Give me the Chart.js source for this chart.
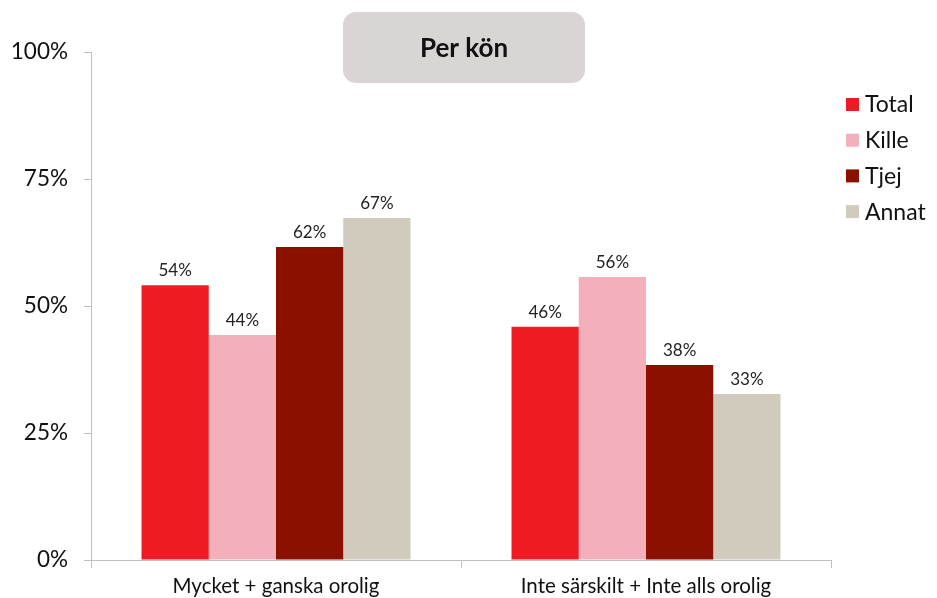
<!DOCTYPE html>
<html>
<head>
<meta charset="utf-8">
<script src="https://cdn.jsdelivr.net/npm/chart.js@4/dist/chart.umd.min.js"></script>
<style>
  html, body { margin: 0; padding: 0; background: #fff; }
  #wrap { width: 937px; height: 598px; position: relative; }
</style>
</head>
<body>
<div id="wrap"><canvas id="chart"></canvas></div>
<script>
// data
const categories = ['Mycket + ganska orolig', 'Inte särskilt + Inte alls orolig'];
const seriesNames = ['Total', 'Kille', 'Tjej', 'Annat'];
const total = [54.1, 45.9];
const kille = [44.3, 55.7];
const tjej = [61.6, 38.4];
const annat = [67.3, 32.7];
const yTicks = [0, 25, 50, 75, 100];
const titleText = 'Per kön';

const colors = ['#ed1c24', '#f4b0ba', '#8b1000', '#d1cbbd'];
const FONT = 'Lato, "Open Sans", sans-serif';

// rounded grey box with the title
const titleBox = {
  id: 'titleBox',
  afterDraw(chart) {
    const ctx = chart.ctx;
    const x = 343, y = 12, w = 242, h = 71, r = 13;
    ctx.save();
    ctx.fillStyle = '#d9d5d4';
    ctx.beginPath();
    ctx.roundRect(x, y, w, h, r);
    ctx.fill();
    ctx.fillStyle = '#111';
    ctx.font = 'bold 26px ' + FONT;
    ctx.textAlign = 'center';
    ctx.textBaseline = 'middle';
    ctx.fillText(titleText, x + w / 2, y + h / 2 + 1);
    ctx.restore();
  }
};

// percent labels above bars
const barLabels = {
  id: 'barLabels',
  afterDatasetsDraw(chart) {
    const ctx = chart.ctx;
    ctx.save();
    ctx.font = '17px ' + FONT;
    ctx.fillStyle = '#222';
    ctx.textAlign = 'center';
    ctx.textBaseline = 'bottom';
    chart.data.datasets.forEach((ds, i) => {
      chart.getDatasetMeta(i).data.forEach((bar, j) => {
        ctx.fillText(Math.round(ds.data[j]) + '%', bar.x, bar.y - 6);
      });
    });
    ctx.restore();
  }
};

// legend on the right, top aligned
const sideLegend = {
  id: 'sideLegend',
  afterDraw(chart) {
    const ctx = chart.ctx;
    ctx.save();
    ctx.font = '23px ' + FONT;
    ctx.textBaseline = 'middle';
    ctx.textAlign = 'left';
    chart.data.datasets.forEach((ds, i) => {
      const cy = 104 + i * 35.7;
      ctx.fillStyle = ds.backgroundColor;
      ctx.fillRect(846, cy - 6, 13, 13);
      ctx.fillStyle = '#111';
      ctx.fillText(ds.label, 865, cy + 1);
    });
    ctx.restore();
  }
};

const seriesData = [total, kille, tjej, annat];

new Chart(document.getElementById('chart'), {
  type: 'bar',
  data: {
    labels: categories,
    datasets: seriesNames.map((name, i) => ({
      label: name,
      data: seriesData[i],
      backgroundColor: colors[i],
      barPercentage: 1,
      categoryPercentage: 0.727
    }))
  },
  options: {
    responsive: true,
    maintainAspectRatio: false,
    animation: false,
    layout: { padding: { top: 52, right: 106, left: 0, bottom: 0 } },
    plugins: {
      legend: { display: false },
      tooltip: { enabled: false }
    },
    scales: {
      x: {
        afterFit(scale) { scale.height = 38; },
        grid: { display: true, drawOnChartArea: false, offset: true, tickLength: 8, color: '#bfbfbf' },
        border: { color: '#bfbfbf' },
        ticks: { color: '#111', font: { family: FONT, size: 20.5 }, padding: 6 }
      },
      y: {
        min: 0,
        max: 100,
        afterFit(scale) { scale.width = 91; },
        afterBuildTicks(axis) { axis.ticks = yTicks.map(v => ({ value: v })); },
        grid: { display: true, drawOnChartArea: false, tickLength: 7, color: '#bfbfbf' },
        border: { color: '#bfbfbf' },
        ticks: {
          color: '#111',
          font: { family: FONT, size: 22.5 },
          padding: 16,
          callback: v => v + '%'
        }
      }
    }
  },
  plugins: [titleBox, barLabels, sideLegend]
});
</script>
</body>
</html>
